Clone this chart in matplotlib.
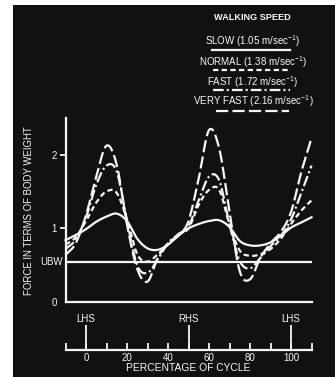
import numpy as np
import matplotlib
matplotlib.use("Agg")
import matplotlib.pyplot as plt
from matplotlib.patches import Rectangle

plt.rcParams['font.family'] = ['Liberation Sans', 'DejaVu Sans']
plt.rcParams['mathtext.fontset'] = 'custom'
plt.rcParams['mathtext.rm'] = 'Liberation Sans'
plt.rcParams['mathtext.bf'] = 'Liberation Sans:bold'

# percentage of gait cycle (read every 5 %)
pct = [-10, -5, 0, 5, 10, 15, 20, 25, 30, 35, 40, 45, 50,
       55, 60, 65, 70, 75, 80, 85, 90, 95, 100, 105, 110]

slow = [0.84, 0.91, 0.99, 1.09, 1.16, 1.20, 1.10, 0.86, 0.73, 0.71, 0.78, 0.90, 1.00,
        1.06, 1.10, 1.11, 1.02, 0.83, 0.77, 0.77, 0.81, 0.90, 1.01, 1.08, 1.15]
normal = [0.78, 0.88, 1.10, 1.35, 1.50, 1.48, 1.12, 0.65, 0.55, 0.65, 0.78, 0.92, 1.00,
          1.32, 1.52, 1.52, 1.05, 0.70, 0.63, 0.65, 0.72, 0.86, 1.06, 1.24, 1.38]
fast = [0.72, 0.85, 1.15, 1.59, 1.85, 1.77, 1.10, 0.50, 0.40, 0.58, 0.80, 0.92, 1.03,
        1.38, 1.70, 1.65, 1.05, 0.56, 0.46, 0.60, 0.76, 0.90, 1.12, 1.48, 1.85]
very_fast = [0.64, 0.80, 1.18, 1.70, 2.12, 1.86, 1.05, 0.45, 0.28, 0.60, 0.80, 0.90, 1.10,
             1.68, 2.33, 2.08, 1.22, 0.42, 0.31, 0.60, 0.80, 0.95, 1.22, 1.76, 2.22]

ubw = 0.54
labels = ['SLOW (1.05 m/sec$^{-1}$)', 'NORMAL (1.38 m/sec$^{-1}$)',
          'FAST (1.72 m/sec$^{-1}$)', 'VERY FAST (2.16 m/sec$^{-1}$)']
events = [0, 50, 100]
event_names = ['LHS', 'RHS', 'LHS']

W = '#f6f6f6'
BG = '#111111'
styles = [dict(ls='-'),
          dict(ls=(0, (2.4, 1.5))),
          dict(ls=(0, (4.8, 1.4, 0.9, 1.4))),
          dict(ls=(0, (5.5, 1.9)))]


def smooth(x, y, n=10):
    # cubic hermite through the read points, only for drawing
    x = np.asarray(x, float)
    y = np.asarray(y, float)
    m = np.gradient(y, x)
    xs, ys = [], []
    for i in range(len(x) - 1):
        h = x[i + 1] - x[i]
        t = np.linspace(0, 1, n, endpoint=False)
        h00 = 2 * t**3 - 3 * t**2 + 1
        h10 = t**3 - 2 * t**2 + t
        h01 = -2 * t**3 + 3 * t**2
        h11 = t**3 - t**2
        xs.append(x[i] + t * h)
        ys.append(h00 * y[i] + h10 * h * m[i] + h01 * y[i + 1] + h11 * h * m[i + 1])
    xs.append([x[-1]])
    ys.append([y[-1]])
    return np.concatenate(xs), np.concatenate(ys)


fig = plt.figure(figsize=(3.35, 3.77), dpi=100)
fig.patch.set_facecolor('white')
fig.patches.append(Rectangle((13 / 335, 0), 1, 372 / 377, transform=fig.transFigure,
                             facecolor=BG, edgecolor='none', zorder=-10))

ax = fig.add_axes([65.5 / 335, 74.7 / 377, 246 / 335, 184 / 377])
ax.set_facecolor(BG)
ax.set_xlim(-10, 110)
ax.set_ylim(0, 2.49)
for s in ['top', 'right']:
    ax.spines[s].set_visible(False)
for s in ['left', 'bottom']:
    ax.spines[s].set_color(W)
    ax.spines[s].set_linewidth(1.6)

for vals, st in zip([slow, normal, fast, very_fast], styles):
    xs, ys = smooth(pct, vals)
    ax.plot(xs, ys, color=W, lw=1.6, **st, clip_on=False)

ax.axhline(ubw, color=W, lw=1.6)
ax.text(-11.3, ubw, 'UBW', color=W, fontsize=7, ha='right', va='center')

ax.set_xticks([])
ax.set_yticks([0, 1, 2])
ax.set_yticklabels(['0', '1', '2'])
ax.tick_params(axis='y', colors=W, length=4, width=1.3, pad=2, labelsize=7)
ax.yaxis.get_major_ticks()[0].tick1line.set_visible(False)
ax.set_ylabel('FORCE IN TERMS OF BODY WEIGHT', color=W, fontsize=6.9, labelpad=13)

# gait-event scale below the plot
ax2 = fig.add_axes([65.5 / 335, 27 / 377, 246 / 335, 25 / 377])
ax2.set_facecolor('none')
ax2.set_xlim(-10, 110)
ax2.set_ylim(0, 1)
for s in ['top', 'right', 'left']:
    ax2.spines[s].set_visible(False)
ax2.spines['bottom'].set_color(W)
ax2.spines['bottom'].set_linewidth(1.6)
ax2.set_yticks([])
ax2.set_xticks(range(-10, 111, 10))
ax2.set_xticklabels(['' if (v % 20 or v < 0 or v > 100) else str(v) for v in range(-10, 111, 10)])
ax2.tick_params(axis='x', direction='in', colors=W, length=5, width=1.3, pad=2, labelsize=7)
ax2.vlines(events, 0, 1, color=W, lw=1.3)
for e, name in zip(events, event_names):
    ax2.text(e, 1.05, name, color=W, fontsize=7, ha='center', va='bottom')
ax2.set_xlabel('PERCENTAGE OF CYCLE', color=W, fontsize=7.4, labelpad=0.3)

# legend block
lg = fig.add_axes([195 / 335, (377 - 120) / 377, 120 / 335, 112 / 377])
lg.set_xlim(195, 315)
lg.set_ylim(120, 8)
lg.axis('off')
lg.text(252, 18, 'WALKING SPEED', color=W, fontsize=6.6, fontweight='bold', ha='center', va='center')
text_y = [41, 62, 82, 101]
line_y = [50, 70, 90, 111]
spans = [(212, 290), (213, 290), (213, 290), (216, 289)]
for lab, ty, ly, sp, st in zip(labels, text_y, line_y, spans, styles):
    lg.text(253, ty, lab, color=W, fontsize=7.0, ha='center', va='center')
    lg.plot(sp, [ly, ly], color=W, lw=1.6, **st)

fig.savefig('out.png', dpi=100, facecolor=fig.get_facecolor())
